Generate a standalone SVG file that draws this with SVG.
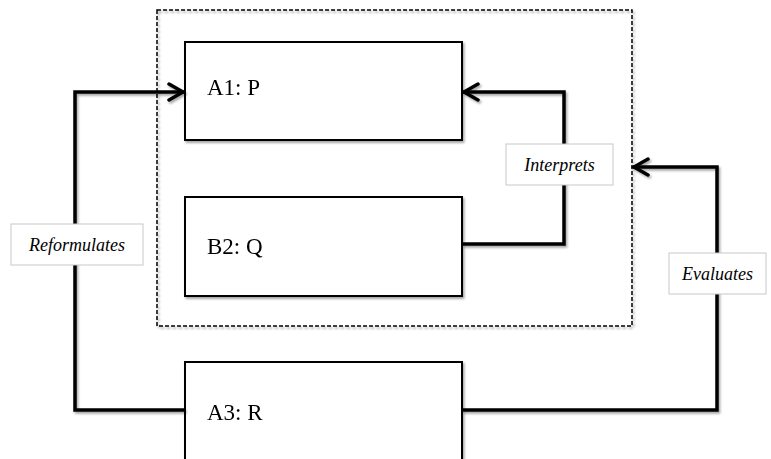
<svg xmlns="http://www.w3.org/2000/svg" width="771" height="459" viewBox="0 0 771 459">
<defs>
<filter id="sh" x="-10%" y="-10%" width="130%" height="130%">
<feDropShadow dx="1.5" dy="2" stdDeviation="1.2" flood-color="#000" flood-opacity="0.35"/>
</filter>
<marker id="arr" viewBox="-18 -10 20 20" refX="0" refY="0" markerWidth="20" markerHeight="20" markerUnits="userSpaceOnUse" orient="auto">
<path d="M-15,-8 L-1,0 L-15,8" fill="none" stroke="#000" stroke-width="3.5" stroke-linejoin="miter" stroke-linecap="round"/>
</marker>
<style>
.box{fill:#fff;stroke:#000;stroke-width:2}
.frame{fill:none;stroke:#000;stroke-width:1.5;stroke-dasharray:4 2}
.wire{fill:none;stroke:#000;stroke-width:3.5;stroke-linejoin:miter}
.lbl{fill:#fff;stroke:#c8c8c8;stroke-width:1}
.nt{font-family:"Liberation Serif",serif;font-size:23px;fill:#000}
.lt{font-family:"Liberation Serif",serif;font-size:18px;font-style:italic;fill:#000}
</style>
</defs>
<rect width="771" height="459" fill="#fff"/>
<g id="frame" filter="url(#sh)">
<rect class="frame" x="157" y="10" width="475" height="316"/>
</g>
<g id="A1" filter="url(#sh)">
<rect class="box" x="185" y="42" width="277" height="98"/>
<text class="nt" x="207" y="95">A1: P</text>
</g>
<g id="B2" filter="url(#sh)">
<rect class="box" x="185" y="197" width="277" height="99"/>
<text class="nt" x="207" y="254">B2: Q</text>
</g>
<g id="A3" filter="url(#sh)">
<rect class="box" x="185" y="362" width="277" height="110"/>
<text class="nt" x="207" y="420">A3: R</text>
</g>
<g id="connectors">
<g filter="url(#sh)">
<path class="wire" d="M185,410 H75 V92 H184" marker-end="url(#arr)"/>
<path class="wire" d="M462,244 H564 V92 H463" marker-end="url(#arr)"/>
<path class="wire" d="M462,410 H717 V167 H633" marker-end="url(#arr)"/>
</g>
<g id="lbl-reformulates">
<rect class="lbl" x="11" y="224" width="132" height="41"/>
<text class="lt" x="77" y="251" text-anchor="middle">Reformulates</text>
</g>
<g id="lbl-interprets">
<rect class="lbl" x="506" y="144" width="107" height="41"/>
<text class="lt" x="559.5" y="171" text-anchor="middle">Interprets</text>
</g>
<g id="lbl-evaluates">
<rect class="lbl" x="669" y="253" width="97" height="41"/>
<text class="lt" x="717.5" y="280" text-anchor="middle">Evaluates</text>
</g>
</g>
</svg>
